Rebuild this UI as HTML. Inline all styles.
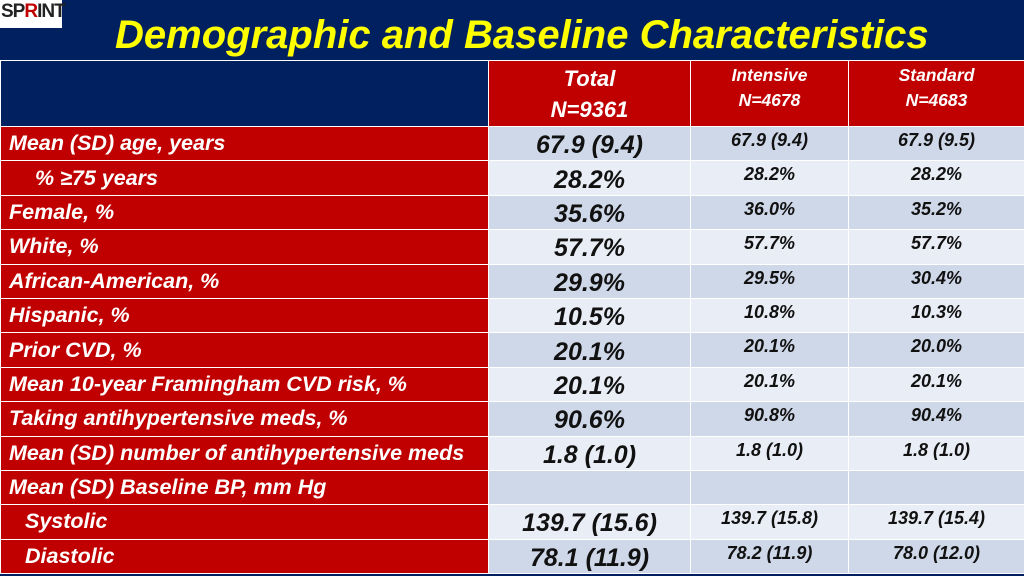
<!DOCTYPE html>
<html><head><meta charset="utf-8"><style>
*{margin:0;padding:0;box-sizing:border-box}
body{width:1024px;height:576px;background:#002060;position:relative;overflow:hidden;font-family:"Liberation Sans",sans-serif;font-weight:bold;font-style:italic}
#logo{position:absolute;left:0;top:0;width:62px;height:28px;background:#fff;color:#222;font-size:19px;font-style:normal;letter-spacing:-1px;line-height:24px;padding-left:1px}
#logo span{color:#c00000}
#title{position:absolute;left:115px;top:13px;color:#ffff00;font-size:40px;letter-spacing:0px;white-space:nowrap}
table{position:absolute;left:0;top:60px;width:1024px;border-collapse:collapse;table-layout:fixed}
td{border:1px solid #fff;height:34.4px;padding:0;overflow:hidden;white-space:nowrap}
tr.hd td{height:66px;background:#c00000;color:#fff;text-align:center;vertical-align:top;font-size:17.5px;line-height:25px;padding-top:2px}
tr.hd td.blank{background:#002060}
tr.hd td.tot{font-size:22px;line-height:31px}
td.lab{background:#c00000;color:#fff;font-size:21.5px;letter-spacing:0px;padding-left:8px}
td.ind{padding-left:34px}
td.v{text-align:center;color:#111}
td.t{font-size:25px;padding-top:4px}
td.s{font-size:18px;vertical-align:top;padding-top:3px}
tr.d td.v{background:#cfd8e8}
tr.l td.v{background:#e9edf5}
</style></head><body>
<div id="logo">SP<span>R</span>INT</div>
<div id="title">Demographic and Baseline Characteristics</div>
<table>
<colgroup><col style="width:488px"><col style="width:202px"><col style="width:158px"><col style="width:176px"></colgroup>
<tr class="hd"><td class="blank"></td><td class="tot">Total<br>N=9361</td><td>Intensive<br>N=4678</td><td>Standard<br>N=4683</td></tr>
<tr class="d"><td class="lab">Mean (SD) age, years</td><td class="v t">67.9 (9.4)</td><td class="v s">67.9 (9.4)</td><td class="v s">67.9 (9.5)</td></tr>
<tr class="l"><td class="lab ind">% ≥75 years</td><td class="v t">28.2%</td><td class="v s">28.2%</td><td class="v s">28.2%</td></tr>
<tr class="d"><td class="lab">Female, %</td><td class="v t">35.6%</td><td class="v s">36.0%</td><td class="v s">35.2%</td></tr>
<tr class="l"><td class="lab">White, %</td><td class="v t">57.7%</td><td class="v s">57.7%</td><td class="v s">57.7%</td></tr>
<tr class="d"><td class="lab">African-American, %</td><td class="v t">29.9%</td><td class="v s">29.5%</td><td class="v s">30.4%</td></tr>
<tr class="l"><td class="lab">Hispanic, %</td><td class="v t">10.5%</td><td class="v s">10.8%</td><td class="v s">10.3%</td></tr>
<tr class="d"><td class="lab">Prior CVD, %</td><td class="v t">20.1%</td><td class="v s">20.1%</td><td class="v s">20.0%</td></tr>
<tr class="l"><td class="lab">Mean 10-year Framingham CVD risk, %</td><td class="v t">20.1%</td><td class="v s">20.1%</td><td class="v s">20.1%</td></tr>
<tr class="d"><td class="lab">Taking antihypertensive meds, %</td><td class="v t">90.6%</td><td class="v s">90.8%</td><td class="v s">90.4%</td></tr>
<tr class="l"><td class="lab">Mean (SD) number of antihypertensive meds</td><td class="v t">1.8 (1.0)</td><td class="v s">1.8 (1.0)</td><td class="v s">1.8 (1.0)</td></tr>
<tr class="d"><td class="lab">Mean (SD) Baseline BP, mm Hg</td><td class="v"></td><td class="v"></td><td class="v"></td></tr>
<tr class="l"><td class="lab" style="padding-left:24px">Systolic</td><td class="v t">139.7 (15.6)</td><td class="v s">139.7 (15.8)</td><td class="v s">139.7 (15.4)</td></tr>
<tr class="d"><td class="lab" style="padding-left:24px">Diastolic</td><td class="v t">78.1 (11.9)</td><td class="v s">78.2 (11.9)</td><td class="v s">78.0 (12.0)</td></tr>
</table>
</body></html>
